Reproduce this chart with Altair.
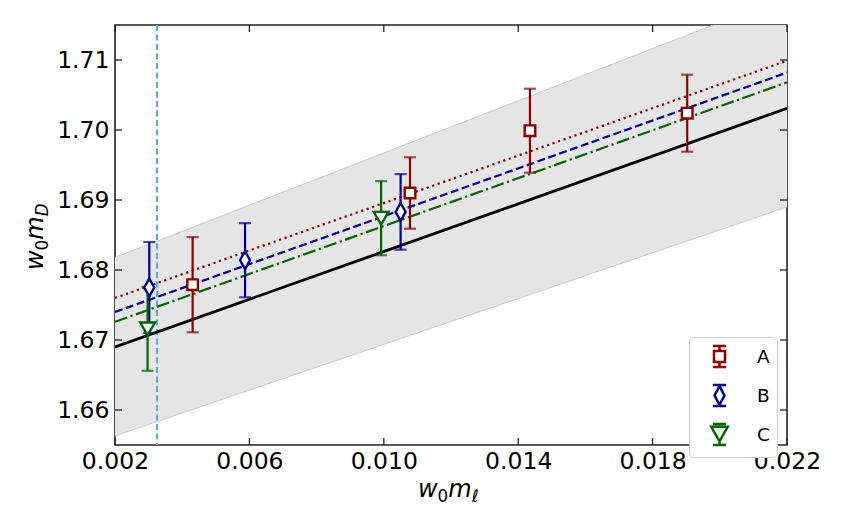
import altair as alt
import pandas as pd

# ---------------- data ----------------
series_names = ["A", "B", "C"]
series_colors = ["#8b0000", "#00008b", "#006400"]

a_x = [0.00431, 0.01078, 0.01435, 0.01903]
a_y = [1.6779, 1.6910, 1.6999, 1.7024]
a_err = [0.0068, 0.0051, 0.0060, 0.0055]

b_x = [0.00302, 0.00587, 0.01050]
b_y = [1.6775, 1.6814, 1.6883]
b_err = [0.0065, 0.0053, 0.0054]

c_x = [0.00297, 0.00992]
c_y = [1.6716, 1.6874]
c_err = [0.0060, 0.0053]

fit_x = [0.002, 0.022]
fit_black = [1.6690, 1.7031]
fit_a = [1.6760, 1.7099]
fit_b = [1.6740, 1.7082]
fit_c = [1.6726, 1.7068]
band_lo = [1.6563, 1.6890]
band_hi = [1.6818, 1.7191]
vline_x = [0.00325]

x_ticks = [0.002, 0.006, 0.010, 0.014, 0.018, 0.022]
y_ticks = [1.66, 1.67, 1.68, 1.69, 1.70, 1.71]
x_domain = [0.002, 0.022]
y_domain = [1.655, 1.715]

# ---------------- tables ----------------
rows = []
for name, xs, ys, es in [("A", a_x, a_y, a_err), ("B", b_x, b_y, b_err), ("C", c_x, c_y, c_err)]:
    for x, y, e in zip(xs, ys, es):
        rows.append({"series": name, "x": x, "y": y, "lo": y - e, "hi": y + e})
pts = pd.DataFrame(rows)

line_rows = []
for name, ys in [("A", fit_a), ("B", fit_b), ("C", fit_c)]:
    for x, y in zip(fit_x, ys):
        line_rows.append({"series": name, "x": x, "y": y})
lines_df = pd.DataFrame(line_rows)
black_df = pd.DataFrame({"x": fit_x, "y": fit_black})
band_df = pd.DataFrame({"x": fit_x, "lo": band_lo, "hi": band_hi})
vline_df = pd.DataFrame({"x": vline_x})
xt_df = pd.DataFrame({"x": x_ticks})
yt_df = pd.DataFrame({"y": y_ticks})
one = pd.DataFrame({"k": [0]})

W, H = 672, 420
FONT = "DejaVu Sans"
TICK_FS = 23.5

xs_scale = alt.Scale(domain=x_domain, nice=False, zero=False)
ys_scale = alt.Scale(domain=y_domain, nice=False, zero=False)
x_axis = alt.Axis(values=x_ticks, format=".3f", ticks=False, domain=False, grid=False,
                  labelFontSize=TICK_FS, labelFont=FONT, labelColor="black", labelPadding=4,
                  labelFlush=False, labelOverlap=False, title=None)
y_axis = alt.Axis(values=y_ticks, format=".2f", ticks=False, domain=False, grid=False,
                  labelFontSize=TICK_FS, labelFont=FONT, labelColor="black", labelPadding=6,
                  labelFlush=False, labelOverlap=False, title=None)


def X(field="x"):
    return alt.X(f"{field}:Q", scale=xs_scale, axis=x_axis)


def Y(field="y"):
    return alt.Y(f"{field}:Q", scale=ys_scale, axis=y_axis)


col_scale = alt.Scale(domain=series_names, range=series_colors)

# marker paths (data) and legend glyph paths (marker + error bar)
marker_paths = [
    "M-0.53,-0.53H0.53V0.53H-0.53Z",
    "M0,-0.89L0.5,0L0,0.89L-0.5,0Z",
    "M-0.74,-0.63H0.74L0,0.63Z",
]
legend_paths = [
    "M-0.5,-0.5H0.5V0.5H-0.5Z M0,-0.5V-0.95 M-0.6,-0.95H0.6 M0,0.5V0.95 M-0.6,0.95H0.6",
    "M0,-0.85L0.45,0L0,0.85L-0.45,0Z M-0.6,-0.95H0.6 M-0.6,0.95H0.6",
    "M-0.75,-0.7H0.75L0,0.62Z M-0.6,-0.95H0.6 M0,0.62V0.95 M-0.6,0.95H0.6",
]

# ---------------- layers ----------------
band = alt.Chart(band_df).mark_area(color="#e5e5e5", clip=True).encode(
    x=X(), y=Y("hi"), y2="lo:Q")
band_hi_edge = alt.Chart(band_df).mark_line(color="#c9c9c9", strokeWidth=1, clip=True).encode(
    x=X(), y=Y("hi"))
band_lo_edge = alt.Chart(band_df).mark_line(color="#c9c9c9", strokeWidth=1, clip=True).encode(
    x=X(), y=Y("lo"))

vline = alt.Chart(vline_df).mark_rule(color="#5ea3dc", strokeDash=[6, 3.5], strokeWidth=2).encode(
    x=X())

black = alt.Chart(black_df).mark_line(color="black", strokeWidth=2.8, clip=True).encode(
    x=X(), y=Y())

colored = alt.Chart(lines_df).mark_line(strokeWidth=2.2, clip=True).encode(
    x=X(), y=Y(),
    color=alt.Color("series:N", scale=col_scale, legend=None),
    strokeDash=alt.StrokeDash("series:N", scale=alt.Scale(
        domain=series_names, range=[[2.2, 3.6], [8, 3.5], [13, 3.5, 2.2, 3.5]]), legend=None),
)

errs = alt.Chart(pts).mark_rule(strokeWidth=2.2).encode(
    x=X(), y=Y("lo"), y2="hi:Q",
    color=alt.Color("series:N", scale=col_scale, legend=None))

caps = alt.Chart(pts).transform_fold(["lo", "hi"], as_=["which", "v"]).mark_tick(
    orient="horizontal", size=12, thickness=2.2).encode(
    x=X(), y=Y("v"),
    color=alt.Color("series:N", scale=col_scale, legend=None))

points = alt.Chart(pts).mark_point(filled=False, fill="white", fillOpacity=1, opacity=1,
                                   strokeWidth=2.4, size=400).encode(
    x=X(), y=Y(),
    color=alt.Color("series:N", scale=col_scale, legend=None),
    shape=alt.Shape("series:N", scale=alt.Scale(domain=series_names, range=marker_paths), legend=None))

leg = dict(orient="none", legendX=574, legendY=312, title=None,
           symbolSize=484, symbolStrokeWidth=2.5, symbolFillColor="white", symbolOpacity=1,
           labelFont=FONT, labelFontSize=18.5, labelColor="black", labelOffset=25,
           padding=7, symbolOffset=11, rowPadding=8,
           strokeColor="#cccccc", fillColor="white", cornerRadius=4)

legend_layer = alt.Chart(pts).mark_point(filled=False, opacity=0, strokeWidth=2.5, size=484).encode(
    x=X(), y=Y(),
    color=alt.Color("series:N", scale=col_scale, legend=alt.Legend(**leg)),
    shape=alt.Shape("series:N", scale=alt.Scale(domain=series_names, range=legend_paths),
                    legend=alt.Legend(**leg)))

tick_col = "#222222"
xt_bot = alt.Chart(xt_df).mark_rule(color=tick_col, strokeWidth=1.3).encode(
    x=X(), y=alt.value(H), y2=alt.value(H - 7))
xt_top = alt.Chart(xt_df).mark_rule(color=tick_col, strokeWidth=1.3).encode(
    x=X(), y=alt.value(0), y2=alt.value(7))
yt_left = alt.Chart(yt_df).mark_rule(color=tick_col, strokeWidth=1.3).encode(
    y=Y(), x=alt.value(0), x2=alt.value(7))
yt_right = alt.Chart(yt_df).mark_rule(color=tick_col, strokeWidth=1.3).encode(
    y=Y(), x=alt.value(W), x2=alt.value(W - 7))

# axis titles composed of pieces (italic letters, upright subscripts)
def piece(text, px, py, size, italic, angle=0):
    kw = dict(text=text, font=FONT, fontSize=size, align="left", baseline="alphabetic",
              color="black")
    if italic:
        kw["fontStyle"] = "italic"
    if angle:
        kw["angle"] = angle
    return alt.Chart(one).mark_text(**kw).encode(x=alt.value(px), y=alt.value(py))

xtitle = [
    piece("w", 303, 472, 24, True),
    piece("0", 322.6, 477, 16.8, False),
    piece("m", 333.3, 472, 24, True),
    piece("ℓ", 356.7, 477, 16.8, True),
]
ytitle = [
    piece("w", -72, 245, 24, True, 270),
    piece("0", -67, 225.4, 16.8, False, 270),
    piece("m", -72, 214.7, 24, True, 270),
    piece("D", -67, 191.3, 16.8, True, 270),
]

chart = alt.layer(
    band, band_hi_edge, band_lo_edge, vline, black, colored, errs, caps, points,
    xt_bot, xt_top, yt_left, yt_right, legend_layer, *xtitle, *ytitle
).resolve_scale(color="independent", shape="independent").properties(
    width=W, height=H,
    padding={"left": 107, "top": 17, "right": 40, "bottom": 75},
    autosize=alt.AutoSizeParams(type="none"),
).configure_view(stroke="#222222", strokeWidth=1.6).configure_axis(
    labelFontSize=TICK_FS, labelFont=FONT, labelColor="black"
).configure_legend(labelFontSize=18.5, labelFont=FONT)

chart.save("out.html", embed_options={"renderer": "svg", "actions": False})
